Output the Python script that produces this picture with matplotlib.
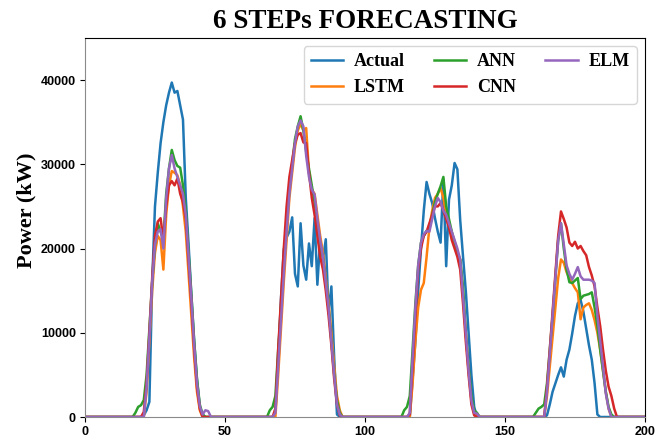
import numpy as np
import matplotlib
matplotlib.use("Agg")
import matplotlib.pyplot as plt

# time steps and where each daylight hump starts
n_steps = 201
day_starts = [18, 65, 112, 160]

# --- day 1 (t = 18..45)
actual_d1 = [0, 0, 0, 200, 800, 1800, 16000, 25000, 29000, 32500, 35000, 37000, 38500, 39700,
             38500, 38700, 37000, 35300, 26000, 20500, 14500, 9000, 4500, 1200, 300, 0, 0, 0]
lstm_d1 = [0, 0, 0, 0, 3000, 9000, 15000, 19500, 21500, 21000, 17500, 24000, 27500, 29200,
           29000, 28700, 27500, 25000, 22000, 17000, 12000, 7000, 3000, 800, 0, 0, 0, 0]
ann_d1 = [500, 1200, 1400, 2000, 5000, 10500, 16000, 20500, 23000, 22000, 21000, 26500, 29500, 31700,
          30500, 29800, 29600, 27500, 24500, 19500, 14500, 9000, 4500, 1500, 300, 0, 0, 0]
cnn_d1 = [0, 0, 0, 600, 4000, 10000, 16500, 21500, 23200, 23600, 21000, 25000, 27500, 28000,
          27500, 28300, 26500, 25500, 23500, 18500, 13500, 8000, 3500, 1000, 0, 0, 0, 0]
elm_d1 = [0, 0, 0, 0, 3500, 9500, 16000, 20500, 22000, 22300, 20000, 26000, 29500, 31100,
          29500, 28500, 27500, 26500, 24000, 19000, 14000, 8500, 4000, 1300, 300, 800, 700, 0]

# --- day 2 (t = 65..93)
actual_d2 = [0, 0, 0, 500, 7000, 14000, 19900, 21300, 22000, 23700, 17000, 15500, 23000, 18000, 16300,
             20600, 17900, 23600, 15700, 21100, 18700, 21100, 12300, 15500, 7000, 300, 0, 0, 0]
lstm_d2 = [0, 0, 0, 0, 5000, 10500, 16000, 21000, 26000, 29000, 32000, 34000, 34800, 34000, 34300,
           29000, 27000, 26500, 24000, 21500, 19500, 16500, 13500, 10000, 6000, 2500, 800, 0, 0]
ann_d2 = [0, 800, 1200, 2500, 8000, 13000, 18000, 23000, 27000, 30000, 33000, 34500, 35700, 34000, 31500,
          29500, 27500, 25500, 23000, 20500, 19000, 16000, 13000, 9000, 5000, 2000, 500, 0, 0]
cnn_d2 = [0, 0, 0, 1000, 8000, 14000, 20000, 25000, 28500, 30500, 32500, 33500, 33700, 32600, 32500,
          29000, 26000, 24000, 21500, 19000, 17500, 15000, 12000, 8500, 4500, 1500, 200, 0, 0]
elm_d2 = [0, 0, 0, 500, 6000, 11500, 17000, 22000, 26500, 29500, 32500, 34500, 35200, 34500, 31000,
          28500, 27000, 26400, 23500, 21000, 19000, 16000, 13000, 9000, 5000, 1500, 300, 0, 0]

# --- day 3 (t = 112..141)
actual_d3 = [0, 0, 0, 0, 0, 4500, 9000, 15000, 20000, 24500, 27900, 26500, 25400, 23600, 22000,
             20700, 28200, 17900, 25800, 27500, 30150, 29400, 23400, 19100, 15000, 10000, 5000, 1200, 0, 0]
lstm_d3 = [0, 0, 0, 0, 0, 4000, 9000, 13000, 15100, 15900, 19000, 22500, 24500, 26000, 26500,
           27200, 26000, 24000, 23000, 21500, 20300, 19500, 18700, 14500, 10000, 5500, 2000, 500, 0, 0]
ann_d3 = [0, 0, 800, 1200, 2500, 8000, 13500, 18000, 20700, 21500, 22100, 22300, 24000, 25500, 26500,
          27400, 28500, 25000, 23500, 22000, 20800, 19500, 18700, 15500, 10000, 6000, 2500, 800, 500, 0]
cnn_d3 = [0, 0, 0, 0, 300, 6000, 12000, 17500, 20000, 21500, 22000, 23000, 24000, 25000, 25000,
          25400, 24500, 23500, 22500, 21000, 20000, 19000, 17500, 13500, 9000, 5000, 1500, 200, 0, 0]
elm_d3 = [0, 0, 0, 0, 500, 7000, 13000, 18000, 20700, 21700, 22100, 22000, 23500, 25000, 26000,
          25500, 24500, 24000, 23000, 22000, 21000, 20000, 18700, 14500, 10000, 5500, 2000, 500, 400, 0]

# --- day 4 (t = 160..192)
actual_d4 = [0, 0, 0, 0, 0, 200, 1500, 3000, 4000, 5000, 5900, 4800, 6800, 8000, 9900, 12000, 13500,
             13900, 12500, 10500, 8500, 6800, 4000, 300, 0, 0, 0, 0, 0, 0, 0, 0, 0]
lstm_d4 = [0, 0, 0, 0, 0, 2500, 6000, 9500, 13000, 16500, 18700, 18300, 17200, 16500, 15900, 15300, 14800,
           11600, 13000, 13300, 13500, 12700, 11500, 10000, 8000, 5500, 3000, 1000, 0, 0, 0, 0, 0]
ann_d4 = [0, 500, 1000, 1200, 1500, 4000, 8000, 12000, 16500, 21000, 23000, 20000, 17500, 16000, 15900,
          16200, 16500, 14000, 14400, 14500, 14600, 14800, 13000, 10800, 8000, 5500, 3000, 1200, 300, 0, 0, 0, 0]
cnn_d4 = [0, 0, 0, 0, 0, 3500, 8000, 12500, 17000, 21500, 24400, 23500, 22500, 20700, 20300, 20800, 20000,
          20300, 19700, 19200, 17800, 16800, 15500, 13000, 10800, 8000, 5500, 3600, 2500, 1000, 0, 0, 0]
elm_d4 = [0, 0, 0, 0, 0, 3000, 7500, 12000, 16500, 21000, 23000, 20500, 18000, 17000, 16300, 17000, 17800,
          16700, 16300, 16300, 16300, 16200, 15900, 12000, 9000, 6000, 2800, 1000, 0, 0, 0, 0, 0]

labels = ["Actual", "LSTM", "ANN", "CNN", "ELM"]
days = {
    "Actual": [actual_d1, actual_d2, actual_d3, actual_d4],
    "LSTM": [lstm_d1, lstm_d2, lstm_d3, lstm_d4],
    "ANN": [ann_d1, ann_d2, ann_d3, ann_d4],
    "CNN": [cnn_d1, cnn_d2, cnn_d3, cnn_d4],
    "ELM": [elm_d1, elm_d2, elm_d3, elm_d4],
}


def full_series(parts):
    y = np.zeros(n_steps)
    for start, vals in zip(day_starts, parts):
        y[start:start + len(vals)] = vals
    return y


t = np.arange(n_steps)

fig = plt.figure(figsize=(6.67, 4.46), dpi=100)
ax = fig.add_axes([0.1274, 0.065, 0.8396, 0.850])

for name in labels:
    ax.plot(t, full_series(days[name]), lw=1.8, label=name)

ax.set_xlim(0, 200)
ax.set_ylim(0, 45000)
ax.set_xticks([0, 50, 100, 150, 200])
ax.set_yticks([0, 10000, 20000, 30000, 40000])
for lab in ax.get_xticklabels() + ax.get_yticklabels():
    lab.set_fontfamily("Liberation Sans")
    lab.set_fontweight("bold")
    lab.set_fontsize(9)

ax.spines["left"].set_color("#8a8a8a")
ax.spines["bottom"].set_color("#8a8a8a")
ax.tick_params(length=3.5, pad=3)

ax.set_title("6 STEPs FORECASTING", fontfamily="Liberation Serif",
             fontweight="bold", fontsize=19.5, pad=7)
ax.set_ylabel("Power (kW)", fontfamily="Liberation Serif",
              fontweight="bold", fontsize=16)
ax.yaxis.set_label_coords(-0.086, 0.545)

ax.legend(loc="upper right", ncol=3, handlelength=1.8, handletextpad=0.6,
          columnspacing=1.6, borderaxespad=0.45,
          prop={"family": "Liberation Serif", "weight": "bold", "size": 13})

fig.savefig("out.png", dpi=100)
